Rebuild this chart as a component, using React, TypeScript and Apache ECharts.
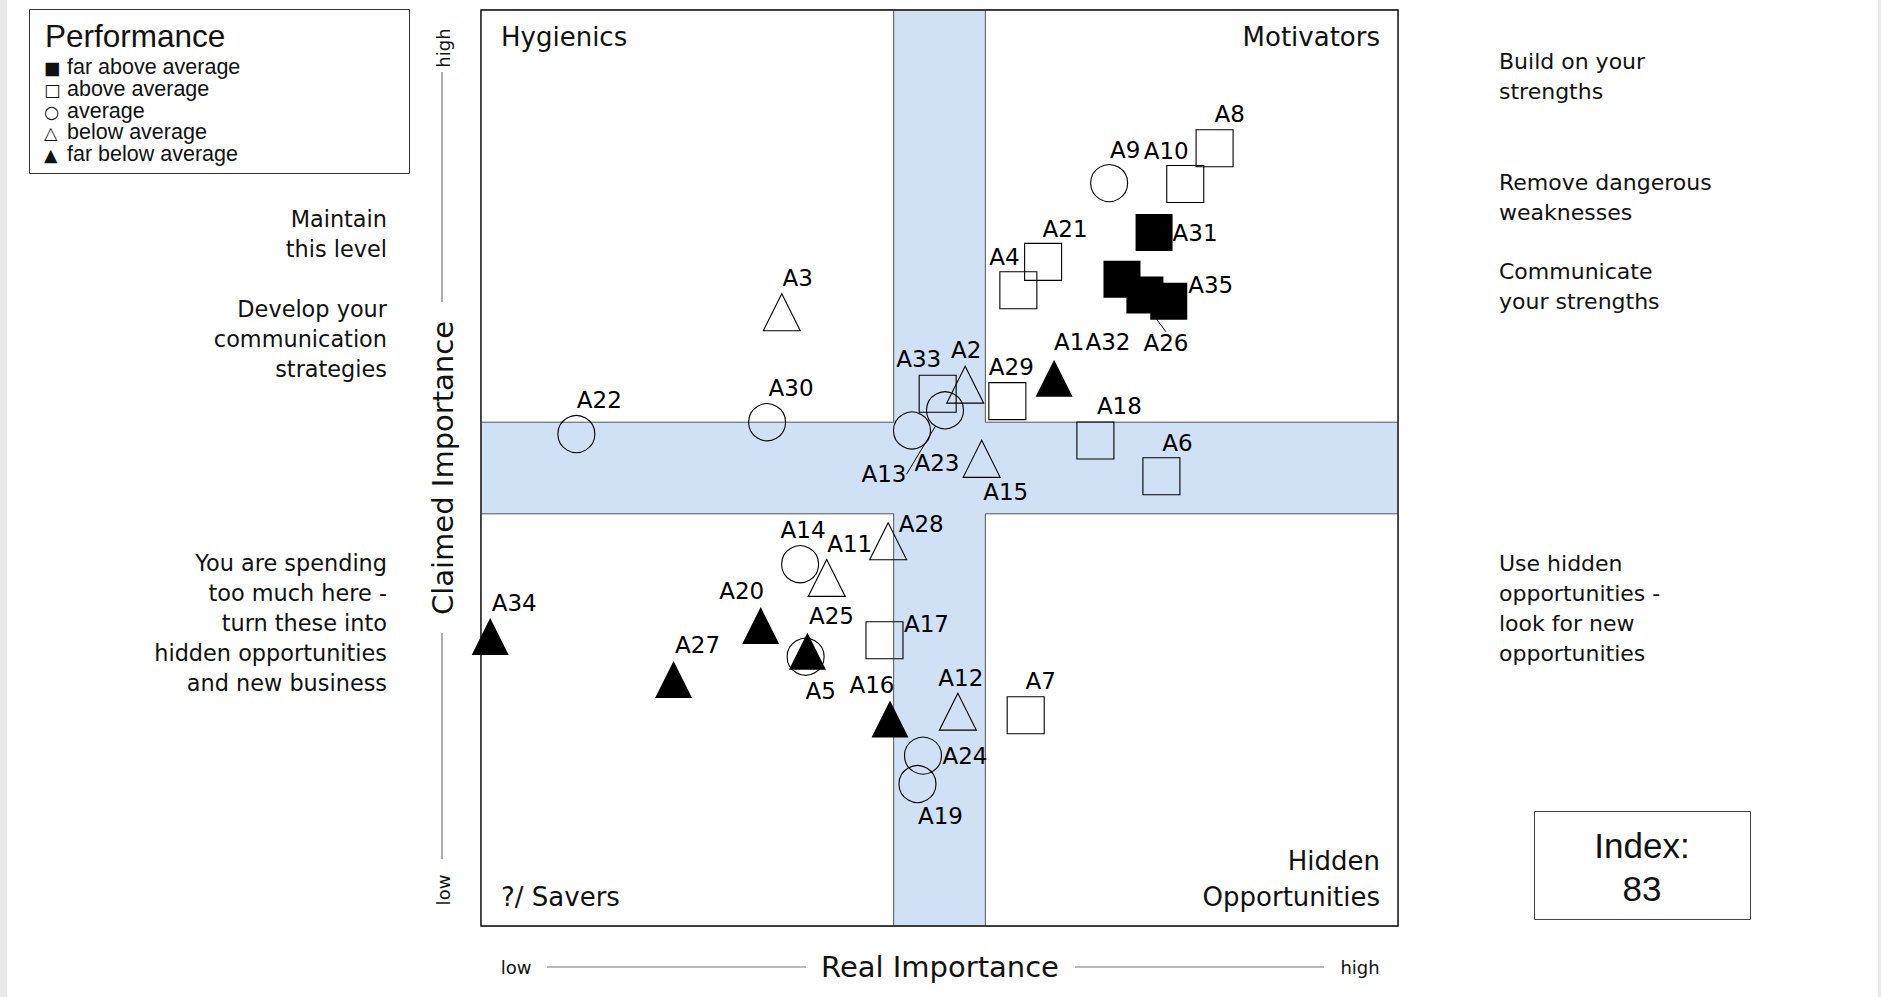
import React, { useEffect, useRef } from "react";
import * as echarts from "echarts";

// ---------- data ----------
const performanceLevels = [
  "far above average",
  "above average",
  "average",
  "below average",
  "far below average",
];
const legendGlyphs = ["■", "□", "○", "△", "▲"];

const items = [
  "A1", "A2", "A3", "A4", "A5", "A6", "A7", "A8", "A9", "A10",
  "A11", "A12", "A13", "A14", "A15", "A16", "A17", "A18", "A19", "A20",
  "A21", "A22", "A23", "A24", "A25", "A26", "A27", "A28", "A29", "A30",
  "A31", "A32", "A33", "A34", "A35",
];
// Real importance (x)
const realImportance = [
  62.5, 52.8, 32.8, 58.6, 35.4, 74.2, 59.4, 80.0, 68.5, 76.8,
  37.7, 52.0, 50.6, 34.8, 54.6, 44.6, 44.0, 67.0, 47.6, 30.5,
  61.3, 10.4, 47.0, 48.2, 35.6, 69.9, 21.0, 44.4, 57.4, 31.2,
  73.4, 72.4, 49.8, 1.0, 75.0,
];
// Claimed importance (y)
const claimedImportance = [
  59.8, 59.1, 67.0, 69.4, 29.4, 49.1, 23.0, 84.9, 81.1, 81.0,
  38.0, 23.4, 56.3, 39.5, 51.0, 22.6, 31.2, 53.0, 15.5, 32.8,
  72.5, 53.7, 54.1, 18.6, 30.0, 70.6, 26.9, 42.0, 57.3, 55.0,
  75.7, 68.9, 58.1, 31.6, 68.2,
];
// index into performanceLevels
const performance = [
  4, 3, 3, 1, 2, 1, 1, 1, 2, 1,
  3, 3, 2, 2, 3, 4, 1, 1, 2, 4,
  1, 2, 2, 2, 4, 0, 4, 3, 1, 2,
  0, 0, 1, 4, 0,
];

const axisMin = 0;
const axisMax = 100;
const bandLow = 45;
const bandHigh = 55;

const quadrantNames = ["Hygienics", "Motivators", "?/ Savers", "Hidden\nOpportunities"];
const indexValue = 83;

// ---------- styling (label placement, pixels relative to the marker) ----------
const labelOffsets: number[][] = [
  [15, -36], [1, -35], [16, -34], [-14, -33], [15, 34], [16, -33], [15, -34], [15, -34], [16, -33], [-19, -33],
  [23, -34], [3, -34], [-61, 64], [3, -34], [24, 33], [-18, -34], [42, -16], [24, -35], [23, 32], [-19, -35],
  [22, -33], [23, -34], [25, 33], [42, 0], [24, -35], [44, 64], [24, -35], [33, -17], [4, -34], [24, -34],
  [41, 0], [-37, 47], [-19, -35], [24, -34], [42, -16],
];
const leaderLines = ["A13", "A26"];

const symbolFor = ["rect", "rect", "circle", "triangle", "triangle"];
const filledFor = [true, false, false, false, true];

const DV = '"DejaVu Sans", sans-serif';
const LIB = '"Liberation Sans", Arial, sans-serif';

function txt(text: string, x: number, y: number, size: number, align: string, vAlign = "middle", font = DV, extra: any = {}) {
  return {
    type: "text",
    silent: true,
    z: 100,
    x,
    y,
    ...extra,
    style: {
      text,
      x: 0,
      y: 0,
      fill: "#111",
      font: `${size}px ${font}`,
      align,
      textAlign: align,
      verticalAlign: vAlign,
      textVerticalAlign: vAlign,
    },
  };
}
function ln(x1: number, y1: number, x2: number, y2: number, color = "#777") {
  return {
    type: "line",
    silent: true,
    z: 100,
    shape: { x1, y1, x2, y2 },
    style: { stroke: color, lineWidth: 1.2 },
  };
}

export default function App() {
  const ref = useRef<HTMLDivElement>(null);

  useEffect(() => {
    if (!ref.current) return;
    const chart = echarts.init(ref.current, undefined, { renderer: "svg" });

    const offsetMap: Record<string, number[]> = {};
    items.forEach((n, i) => (offsetMap[n] = labelOffsets[i]));

    const scatterSeries = performanceLevels.map((level, li) => ({
      type: "scatter",
      name: level,
      z: 3,
      symbol: symbolFor[li],
      symbolSize: 37,
      itemStyle: {
        color: filledFor[li] ? "#000" : "rgba(0,0,0,0)",
        borderColor: "#000",
        borderWidth: filledFor[li] ? 0 : 1.1,
        opacity: 1,
      },
      label: {
        show: true,
        position: "inside",
        formatter: "{b}",
        color: "#000",
        fontFamily: "DejaVu Sans",
        fontSize: 23,
      },
      labelLine: { show: false },
      labelLayout: (params: any) => {
        const o = offsetMap[params.text] || [0, 0];
        return { dx: o[0], dy: o[1] };
      },
      emphasis: { disabled: true },
      data: items
        .map((n, i) => ({ n, i }))
        .filter((d) => performance[d.i] === li)
        .map((d) => ({
          name: d.n,
          value: [realImportance[d.i], claimedImportance[d.i]],
          ...(leaderLines.includes(d.n)
            ? { labelLine: { show: true, lineStyle: { color: "#000", width: 1 } } }
            : {}),
        })),
    }));

    const white = { color: "#ffffff", borderColor: "#555", borderWidth: 1 };
    const areaSeries = {
      type: "scatter",
      name: "quadrants",
      z: 1,
      silent: true,
      data: [],
      markArea: {
        silent: true,
        label: { show: false },
        data: [
          [{ xAxis: axisMin, yAxis: bandHigh, itemStyle: white }, { xAxis: bandLow, yAxis: axisMax }],
          [{ xAxis: bandHigh, yAxis: bandHigh, itemStyle: white }, { xAxis: axisMax, yAxis: axisMax }],
          [{ xAxis: axisMin, yAxis: axisMin, itemStyle: white }, { xAxis: bandLow, yAxis: bandLow }],
          [{ xAxis: bandHigh, yAxis: axisMin, itemStyle: white }, { xAxis: axisMax, yAxis: bandLow }],
          [
            { xAxis: axisMin, yAxis: axisMin, itemStyle: { color: "rgba(0,0,0,0)", borderColor: "#222", borderWidth: 1.3 } },
            { xAxis: axisMax, yAxis: axisMax },
          ],
        ],
      },
    };

    const left = 481, top = 10, width = 917, height = 916;
    const right = left + width, bottom = top + height;

    const graphics: any[] = [
      // page side strips
      { type: "rect", silent: true, z: 0, shape: { x: 0, y: 0, width: 7, height: 997 }, style: { fill: "#e9e9e9" } },
      { type: "rect", silent: true, z: 0, shape: { x: 1878, y: 0, width: 3, height: 997 }, style: { fill: "#e9e9e9" } },
      // legend box
      { type: "rect", silent: true, z: 90, shape: { x: 29.5, y: 9.5, width: 380, height: 164 }, style: { fill: "#fff", stroke: "#333", lineWidth: 1 } },
      txt("Performance", 45, 36, 31.5, "left", "middle", LIB),
      ...performanceLevels.flatMap((lv, i) => [
        txt(legendGlyphs[i], 44, 68 + i * 21.8, 17.5, "left", "middle", DV),
        txt(lv, 67, 67 + i * 21.8, 21.5, "left", "middle", LIB),
      ]),
      // quadrant names
      txt(quadrantNames[0], left + 20, top + 27, 26, "left"),
      txt(quadrantNames[1], right - 18, top + 27, 26, "right"),
      txt(quadrantNames[2], left + 20, bottom - 29, 26, "left"),
      txt("Hidden", right - 18, bottom - 65, 26, "right"),
      txt("Opportunities", right - 18, bottom - 29, 26, "right"),
      // left advice
      txt("Maintain", 387, 219, 22.4, "right"),
      txt("this level", 387, 249, 22.4, "right"),
      txt("Develop your", 387, 309, 22.4, "right"),
      txt("communication", 387, 339, 22.4, "right"),
      txt("strategies", 387, 369, 22.4, "right"),
      txt("You are spending", 387, 563, 22.4, "right"),
      txt("too much here -", 387, 593, 22.4, "right"),
      txt("turn these into", 387, 623, 22.4, "right"),
      txt("hidden opportunities", 387, 653, 22.4, "right"),
      txt("and new business", 387, 683, 22.4, "right"),
      // right advice
      txt("Build on your", 1499, 61, 22, "left"),
      txt("strengths", 1499, 91, 22, "left"),
      txt("Remove dangerous", 1499, 182, 22, "left"),
      txt("weaknesses", 1499, 212, 22, "left"),
      txt("Communicate", 1499, 271, 22, "left"),
      txt("your strengths", 1499, 301, 22, "left"),
      txt("Use hidden", 1499, 563, 22, "left"),
      txt("opportunities -", 1499, 593, 22, "left"),
      txt("look for new", 1499, 623, 22, "left"),
      txt("opportunities", 1499, 653, 22, "left"),
      // x axis name
      txt("low", 516, 967, 18, "center"),
      ln(547, 967, 806, 967),
      txt("Real Importance", 940, 967, 29, "center"),
      ln(1075, 967, 1324, 967),
      txt("high", 1360, 967, 18, "center"),
      // y axis name
      txt("high", 443, 48, 18, "center", "middle", DV, { rotation: Math.PI / 2 }),
      ln(442, 72, 442, 302),
      txt("Claimed Importance", 443, 468, 29, "center", "middle", DV, { rotation: Math.PI / 2 }),
      ln(442, 633, 442, 859),
      txt("low", 443, 890, 18, "center", "middle", DV, { rotation: Math.PI / 2 }),
      // index box
      { type: "rect", silent: true, z: 90, shape: { x: 1534.5, y: 811.5, width: 216, height: 108 }, style: { fill: "#fff", stroke: "#444", lineWidth: 1 } },
      txt("Index:", 1642, 845, 35, "center", "middle", LIB),
      txt(String(indexValue), 1642, 888, 35, "center", "middle", LIB),
    ];

    chart.setOption({
      animation: false,
      backgroundColor: "#ffffff",
      grid: {
        left,
        top,
        width,
        height,
        show: true,
        backgroundColor: "#d0e0f5",
        borderColor: "#222",
        borderWidth: 1,
      },
      xAxis: {
        type: "value",
        min: axisMin,
        max: axisMax,
        show: false,
        splitLine: { show: false },
      },
      yAxis: {
        type: "value",
        min: axisMin,
        max: axisMax,
        show: false,
        splitLine: { show: false },
      },
      tooltip: { show: false },
      series: [areaSeries, ...scatterSeries],
      graphic: { elements: graphics },
    });

    return () => chart.dispose();
  }, []);

  return (
    <div
      ref={ref}
      style={{ position: "absolute", left: 0, top: 0, width: 1881, height: 997, background: "#fff" }}
    />
  );
}
